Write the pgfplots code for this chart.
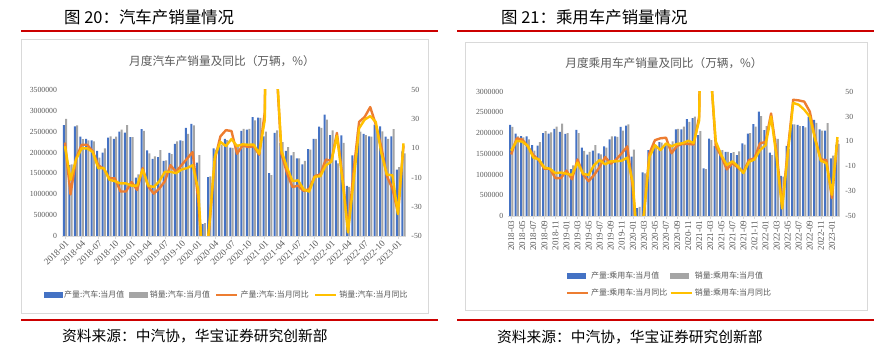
\documentclass[border=0pt]{standalone}
\usepackage{pgfplots}
\pgfplotsset{compat=1.18}
\usepackage{pgfplotstable}
\usepackage{fontspec}
\setmainfont{Liberation Serif}
\newfontfamily\cjk{Noto Sans CJK SC}
\definecolor{cblue}{HTML}{4472C4}
\definecolor{cgray}{HTML}{A5A5A5}
\definecolor{corange}{HTML}{ED7D31}
\definecolor{cyellow}{HTML}{FFC000}
\definecolor{cred}{RGB}{204,0,0}
\definecolor{ctext}{HTML}{595959}
\definecolor{cbox}{HTML}{D9D9D9}

% Auto: month index (0 = 2018-01), production, sales, production YoY, sales YoY
\pgfplotstableread{
m prod sales py sy
0 2660000 2810000 14 11.5
1 1700000 1720000 -21.5 -11.5
2 2630000 2650000 3 2.5
3 2380000 2320000 12.5 10
4 2330000 2290000 12.5 10
5 2290000 2270000 8 7.5
6 2040000 1880000 -1.5 -3.5
7 2000000 2100000 -4 -3.5
8 2360000 2390000 -10.5 -11.5
9 2330000 2380000 -10.5 -12.5
10 2500000 2550000 -19.5 -14
11 2480000 2660000 -19.5 -14
12 2370000 2370000 -13 -15.5
13 1400000 1480000 -18.5 -15.5
14 2560000 2520000 -3.5 -4.5
15 2050000 1980000 -16 -15.5
16 1850000 1910000 -21 -16.5
17 1890000 2060000 -17.5 -12.5
18 1800000 1810000 -12.5 -6
19 1990000 1960000 -1.5 -6
20 2210000 2270000 -6 -7
21 2290000 2280000 -1.5 -4.5
22 2590000 2450000 3 -3.5
23 2690000 2650000 7.5 -1.5
24 1760000 1940000 -24.6 -18
25 285000 310000 -79.8 -79.1
26 1410000 1430000 -44.2 -43.3
27 2100000 2070000 2.3 4.4
28 2190000 2190000 18.2 14.5
29 2330000 2300000 22.5 11.6
30 2120000 2110000 21.9 16.4
31 2120000 2190000 6.3 11.6
32 2520000 2570000 12 12.8
33 2550000 2570000 11 12.5
34 2850000 2770000 11.4 12.6
35 2840000 2830000 5.7 6.4
36 2390000 2500000 34.6 29.5
37 1510000 1460000 420 365
38 2470000 2530000 72.6 74.9
39 2230000 2250000 6.3 8.6
40 2040000 2130000 -6.8 -3.1
41 1930000 2010000 -16.5 -12.4
42 1860000 1860000 -15.5 -11.9
43 1720000 1800000 -19.1 -18.1
44 2080000 2070000 -17.9 -19.6
45 2330000 2330000 -9 -9.4
46 2620000 2590000 -7.8 -9.1
47 2910000 2790000 2.4 -1.6
48 2420000 2530000 1.4 0.9
49 1810000 1740000 20.6 18.7
50 2410000 2230000 -9.1 -11.7
51 1200000 1180000 -46.1 -47.6
52 1930000 1860000 -5.7 -12.6
53 2500000 2500000 28.2 23.8
54 2450000 2420000 31.5 29.7
55 2390000 2380000 38.3 32.1
56 2670000 2610000 26.4 28.1
57 2630000 2510000 11.1 6.9
58 2380000 2330000 -9 -7.9
59 2390000 2560000 -17.4 -8.4
60 1590000 1650000 -34 -35
61 2030000 1980000 11.9 13.5
}\tabA

% Passenger cars: month index (0 = 2018-03)
\pgfplotstableread{
m prod sales py sy
0 2200000 2150000 -0.5 2.5
1 1990000 1920000 12.5 10.5
2 1930000 1900000 11.5 9.8
3 1920000 1850000 6 6.5
4 1710000 1580000 -1 -3
5 1700000 1780000 -5 -4.5
6 2000000 2050000 -12 -11
7 1990000 2020000 -12 -12
8 2100000 2160000 -19.5 -15.5
9 2030000 2230000 -19.5 -15
10 1980000 2000000 -13.5 -16
11 1130000 1220000 -20.5 -17
12 2080000 2000000 -4.5 -7
13 1650000 1570000 -16.5 -16
14 1480000 1550000 -22 -17
15 1580000 1710000 -17 -9
16 1510000 1490000 -10.5 -5
17 1680000 1650000 -2.5 -8.5
18 1850000 1920000 -8 -6
19 1920000 1910000 -4.5 -6
20 2150000 2060000 0.5 -5.5
21 2180000 2210000 6 -3
22 1430000 1600000 -27.6 -23.3
23 190000 220000 -82.8 -81.7
24 1050000 1030000 -48.8 -48.4
25 1590000 1540000 0.4 -2.6
26 1790000 1670000 11 7
27 1780000 1770000 12.5 3
28 1700000 1760000 13 8.4
29 1720000 1800000 0.5 6
30 2090000 2100000 6.5 8
31 2090000 2160000 8 8.5
32 2340000 2270000 8 10.5
33 2360000 2400000 7.5 8.8
34 1950000 2050000 30 27
35 1150000 1130000 420 370
36 1870000 1830000 72 70
37 1690000 1640000 6 10
38 1570000 1590000 -2 -1
39 1550000 1550000 -12.5 -9
40 1520000 1540000 -7.5 -6
41 1470000 1560000 -11 -10
42 1750000 1720000 -14.5 -15.5
43 1990000 2000000 -5 -6.5
44 2220000 2160000 -3.5 -4.5
45 2520000 2410000 8.5 3
46 2070000 2170000 9.5 7
47 1530000 1470000 32.5 30
48 1870000 1860000 1 -3
49 970000 950000 -42 -44
50 1690000 1620000 2 -1
51 2210000 2210000 43.5 41
52 2200000 2170000 43 39.5
53 2170000 2140000 42 35.5
54 2400000 2330000 34 30
55 2320000 2250000 12 11
56 2090000 2060000 -4.5 -5.5
57 2060000 2240000 -5 -7.5
58 1390000 1460000 -35.5 -33
59 1720000 1740000 11 13.5
}\tabB

\pgfplotsset{
  common/.style={
    scale only axis, anchor=south west,
    enlarge x limits=false,
    tick align=outside, major tick length=3bp,
    ytick style={draw=none},
    yticklabel style={font=\fontsize{7.8}{8}\selectfont, text=ctext, inner sep=2bp},
    xticklabel style={font=\fontsize{9.2}{9.2}\selectfont, text=ctext},
  },
  barax/.style={
    common,
    scaled y ticks=false,
    axis x line*=bottom, axis y line*=left,
    y axis line style={draw=none},
    x axis line style={draw=cbox, line width=0.7bp},
    xtick style={draw=cbox, line width=0.6bp},
    ybar=0.3bp, bar width=2bp,
  },
  lineax/.style={
    common,
    axis x line=none, axis y line*=right,
    y axis line style={draw=none},
    ymin=-50, ymax=50,
    ytick={-50,-30,-10,10,30,50},
    yticklabels={-50,-30,-10,10,30,50},
    legend cell align=left,
  },
  barleg/.style={legend image code/.code={\fill[#1] (0bp,-2.3bp) rectangle (18bp,2.3bp);}},
  lineleg/.style={legend image code/.code={\draw[#1, line width=2.6bp] (0bp,0bp) -- (21bp,0bp);}},
}

\begin{document}
\begin{tikzpicture}
\path (0bp,0bp) rectangle (887bp,351bp);

% ================= LEFT PANEL =================
\node[anchor=west, font=\cjk\fontsize{16.5}{17}\selectfont, inner sep=0pt] at (64bp,334bp) {图 20：汽车产销量情况};
\draw[cred, line width=2.7bp] (21bp,320bp) -- (438bp,320bp);
\draw[cbox, line width=0.8bp] (21bp,312bp) rectangle (428bp,38bp);
\node[font=\cjk\fontsize{11.7}{12}\selectfont, text=ctext] at (222bp,290bp) {月度汽车产销量及同比（万辆，\%）};
\draw[cred, line width=2.7bp] (21bp,31bp) -- (438bp,31bp);
\node[anchor=west, font=\cjk\fontsize{14.8}{15}\selectfont, inner sep=0pt] at (62bp,15bp) {资料来源：中汽协，华宝证券研究创新部};

\begin{axis}[barax,
  at={(62.2bp,115bp)}, width=344.1bp, height=146bp,
  xmin=-0.5, xmax=61.5, ymin=0, ymax=3500000,
  xtick={0,3,...,60},
  xticklabels={2018-01,2018-04,2018-07,2018-10,2019-01,2019-04,2019-07,2019-10,2020-01,2020-04,2020-07,2020-10,2021-01,2021-04,2021-07,2021-10,2022-01,2022-04,2022-07,2022-10,2023-01},
  xticklabel style={rotate=45, anchor=north east, inner sep=0.5bp},
  ytick={0,500000,1000000,1500000,2000000,2500000,3000000,3500000},
  yticklabels={0,500000,1000000,1500000,2000000,2500000,3000000,3500000},
]
\addplot[fill=cblue, draw=none] table[x=m, y=prod] {\tabA};
\addplot[fill=cgray, draw=none] table[x=m, y=sales] {\tabA};
\end{axis}

\begin{axis}[lineax,
  at={(62.2bp,115bp)}, width=344.1bp, height=146bp,
  xmin=-0.5, xmax=61.5,
  legend style={at={(axis description cs:0.478,-0.404)}, anchor=center, draw=none, fill=none,
    legend columns=4, font=\cjk\fontsize{8}{9}\selectfont, text=ctext,
    /tikz/every even column/.append style={column sep=3bp}},
]
\addlegendimage{barleg=cblue}
\addlegendentry{产量:汽车:当月值}
\addlegendimage{barleg=cgray}
\addlegendentry{销量:汽车:当月值}
\addplot[corange, line width=2.4bp, line join=round, lineleg=corange] table[x=m, y=py] {\tabA};
\addlegendentry{产量:汽车:当月同比}
\addplot[cyellow, line width=2.4bp, line join=round, lineleg=cyellow] table[x=m, y=sy] {\tabA};
\addlegendentry{销量:汽车:当月同比}
\end{axis}

% ================= RIGHT PANEL =================
\node[anchor=west, font=\cjk\fontsize{16.5}{17}\selectfont, inner sep=0pt] at (501bp,334bp) {图 21：乘用车产销量情况};
\draw[cred, line width=2.7bp] (457bp,320bp) -- (874bp,320bp);
\draw[cbox, line width=0.8bp] (465bp,308.5bp) rectangle (867bp,40.7bp);
\node[font=\cjk\fontsize{11.7}{12}\selectfont, text=ctext] at (664bp,288bp) {月度乘用车产销量及同比（万辆，\%）};
\draw[cred, line width=2.7bp] (457bp,31bp) -- (874bp,31bp);
\node[anchor=west, font=\cjk\fontsize{14.8}{15}\selectfont, inner sep=0pt] at (497bp,14bp) {资料来源：中汽协，华宝证券研究创新部};

\begin{axis}[barax,
  at={(508.4bp,135bp)}, width=331.8bp, height=124.3bp,
  xmin=-0.5, xmax=59.5, ymin=0, ymax=3000000,
  xtick={0,2,...,58},
  xticklabels={2018-03,2018-05,2018-07,2018-09,2018-11,2019-01,2019-03,2019-05,2019-07,2019-09,2019-11,2020-01,2020-03,2020-05,2020-07,2020-09,2020-11,2021-01,2021-03,2021-05,2021-07,2021-09,2021-11,2022-01,2022-03,2022-05,2022-07,2022-09,2022-11,2023-01},
  xticklabel style={rotate=90, anchor=east, inner sep=0pt, xshift=-1.5bp, font=\fontsize{9}{9}\selectfont},
  ytick={0,500000,1000000,1500000,2000000,2500000,3000000},
  yticklabels={0,500000,1000000,1500000,2000000,2500000,3000000},
]
\addplot[fill=cblue, draw=none] table[x=m, y=prod] {\tabB};
\addplot[fill=cgray, draw=none] table[x=m, y=sales] {\tabB};
\end{axis}

\begin{axis}[lineax,
  at={(508.4bp,135bp)}, width=331.8bp, height=124.3bp,
  xmin=-0.5, xmax=59.5,
  legend style={at={(axis description cs:0.485,-0.551)}, anchor=center, draw=none, fill=none,
    legend columns=2, font=\cjk\fontsize{8}{9}\selectfont, text=ctext,
    /tikz/every even column/.append style={column sep=0bp}, row sep=5bp},
]
\addlegendimage{barleg=cblue}
\addlegendentry{产量:乘用车:当月值}
\addlegendimage{barleg=cgray}
\addlegendentry{销量:乘用车:当月值}
\addplot[corange, line width=2.4bp, line join=round, lineleg=corange] table[x=m, y=py] {\tabB};
\addlegendentry{产量:乘用车:当月同比}
\addplot[cyellow, line width=2.4bp, line join=round, lineleg=cyellow] table[x=m, y=sy] {\tabB};
\addlegendentry{销量:乘用车:当月同比}
\end{axis}
\end{tikzpicture}
\end{document}
